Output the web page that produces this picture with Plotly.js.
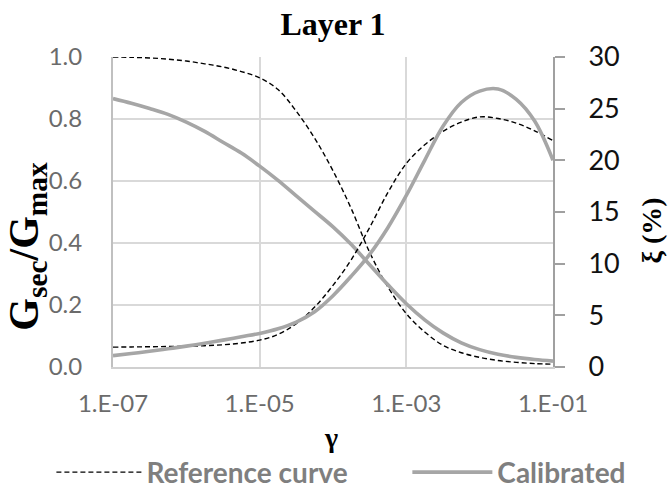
<!DOCTYPE html>
<html>
<head>
<meta charset="utf-8">
<script src="https://cdn.plot.ly/plotly-3.0.1.min.js"></script>
<style>
  html, body { margin: 0; padding: 0; background: #ffffff; }
  #chart { width: 670px; height: 489px; }
</style>
</head>
<body>
<div id="chart"></div>
<script>
// Shear strain, quarter-decade steps from 1e-7 to 1e-1
const gamma = [1e-7, 1.78e-7, 3.16e-7, 5.62e-7,
               1e-6, 1.78e-6, 3.16e-6, 5.62e-6,
               1e-5, 1.78e-5, 3.16e-5, 5.62e-5,
               1e-4, 1.78e-4, 3.16e-4, 5.62e-4,
               1e-3, 1.78e-3, 3.16e-3, 5.62e-3,
               1e-2, 1.78e-2, 3.16e-2, 5.62e-2, 1e-1];

// Reference curve: modulus reduction G_sec/G_max and damping ξ (%)
const refG  = [1.0, 0.999, 0.997, 0.993, 0.987, 0.978, 0.968, 0.953,
               0.933, 0.895, 0.825, 0.738, 0.633, 0.51, 0.37, 0.258,
               0.172, 0.113, 0.07, 0.046, 0.031, 0.021, 0.015, 0.011, 0.009];
const refXi = [1.92, 1.94, 1.96, 1.98, 2.01, 2.06, 2.15, 2.32,
               2.6, 3.15, 4.2, 5.8, 7.9, 10.4, 13.5, 16.9,
               19.7, 21.5, 22.8, 23.7, 24.2, 24.05, 23.6, 22.85, 21.9];

// Calibrated model: modulus reduction G_sec/G_max and damping ξ (%)
const calG  = [0.866, 0.851, 0.834, 0.815, 0.79, 0.76, 0.725, 0.69,
               0.648, 0.602, 0.552, 0.502, 0.452, 0.395, 0.33, 0.265,
               0.204, 0.152, 0.11, 0.078, 0.056, 0.041, 0.031, 0.024, 0.019];
const calXi = [1.1, 1.3, 1.52, 1.76, 2.02, 2.3, 2.6, 2.93,
               3.25, 3.7, 4.35, 5.35, 6.9, 8.8, 10.9, 13.5,
               16.6, 20.0, 23.3, 25.6, 26.7, 26.9, 25.9, 23.8, 20.0];

// Axis ticks
const xTickVals  = [1e-7, 1e-5, 1e-3, 1e-1];
const xTickText  = ['1.E-07', '1.E-05', '1.E-03', '1.E-01'];
const yTickVals  = [0, 0.2, 0.4, 0.6, 0.8, 1.0];
const yTickText  = ['0.0', '0.2', '0.4', '0.6', '0.8', '1.0'];
const y2TickVals = [0, 5, 10, 15, 20, 25, 30];

const seriesNames = ['Reference curve', 'Calibrated'];

const SANS  = 'Lato, "Open Sans", sans-serif';
const SERIF = '"Liberation Serif", "Times New Roman", serif';
const GRAY_LINE = '#a6a6a6';
const DASH  = {color: '#000000', width: 1.4, dash: '5px,3px', shape: 'spline', smoothing: 1};
const SOLID = {color: GRAY_LINE, width: 3.6, shape: 'spline', smoothing: 1};

const traces = [
  {x: gamma, y: refG,  name: seriesNames[0], type: 'scatter', mode: 'lines',
   line: DASH, xaxis: 'x', yaxis: 'y', legend: 'legend', showlegend: true},
  {x: gamma, y: refXi, name: seriesNames[0], type: 'scatter', mode: 'lines',
   line: DASH, xaxis: 'x', yaxis: 'y2', showlegend: false},
  {x: gamma, y: calG,  name: seriesNames[1], type: 'scatter', mode: 'lines',
   line: SOLID, xaxis: 'x', yaxis: 'y', legend: 'legend2', showlegend: true},
  {x: gamma, y: calXi, name: seriesNames[1], type: 'scatter', mode: 'lines',
   line: SOLID, xaxis: 'x', yaxis: 'y2', showlegend: false}
];

const legendFont = {family: SANS, size: 28, color: '#7f7f7f', weight: 'bold'};

const layout = {
  width: 670, height: 489,
  margin: {l: 113, r: 117, t: 57, b: 122, pad: 0, autoexpand: false},
  paper_bgcolor: '#ffffff', plot_bgcolor: '#ffffff',
  showlegend: true,
  title: {
    text: '<b>Layer 1</b>',
    font: {family: SERIF, size: 32, color: '#000000'},
    x: 0.5, xref: 'paper', xanchor: 'center',
    y: 0.951, yref: 'container', yanchor: 'middle'
  },
  xaxis: {
    type: 'log', range: [-7, -1],
    tickmode: 'array', tickvals: xTickVals, ticktext: xTickText,
    showgrid: true, gridcolor: '#d9d9d9', gridwidth: 2,
    showline: true, linecolor: '#d0d0d0', linewidth: 2,
    zeroline: false, ticks: '', ticklabelstandoff: 14,
    tickfont: {family: SANS, size: 24, color: '#6b6b6b'},
    fixedrange: true
  },
  yaxis: {
    range: [0, 1], tickmode: 'array', tickvals: yTickVals, ticktext: yTickText,
    showgrid: true, gridcolor: '#d9d9d9', gridwidth: 2,
    showline: true, linecolor: '#c0c0c0', linewidth: 2,
    zeroline: false, ticks: '', ticklabelstandoff: 24,
    tickfont: {family: SANS, size: 24, color: '#6b6b6b'},
    fixedrange: true
  },
  yaxis2: {
    range: [0, 30], tickmode: 'array', tickvals: y2TickVals,
    overlaying: 'y', side: 'right', anchor: 'x',
    showgrid: false, zeroline: false,
    showline: true, linecolor: '#a0a0a0', linewidth: 2,
    ticks: 'outside', ticklen: 10, tickwidth: 2, tickcolor: '#a0a0a0',
    ticklabelstandoff: 18,
    tickfont: {family: SANS, size: 27, color: '#111111'},
    fixedrange: true
  },
  legend: {
    orientation: 'h', x: -0.140, xanchor: 'left', y: -0.340, yanchor: 'middle',
    bgcolor: 'rgba(0,0,0,0)', borderwidth: 0, itemwidth: 85,
    font: legendFont
  },
  legend2: {
    orientation: 'h', x: 0.669, xanchor: 'left', y: -0.340, yanchor: 'middle',
    bgcolor: 'rgba(0,0,0,0)', borderwidth: 0, itemwidth: 80,
    font: legendFont
  },
  annotations: [
    {text: '<b>G<sub>sec</sub>/G<sub>max</sub></b>', textangle: -90,
     xref: 'paper', yref: 'paper', x: -0.1948, y: 0.389,
     xanchor: 'center', yanchor: 'middle', showarrow: false,
     font: {family: SERIF, size: 42, color: '#000000'}},
    {text: '<b>ξ (%)</b>', textangle: -90,
     xref: 'paper', yref: 'paper', x: 1.2234, y: 0.441,
     xanchor: 'center', yanchor: 'middle', showarrow: false,
     font: {family: SERIF, size: 28, color: '#000000'}},
    {text: '<b>γ</b>', xref: 'paper', yref: 'paper', x: 0.4955, y: -0.226,
     xanchor: 'center', yanchor: 'middle', showarrow: false,
     font: {family: SERIF, size: 28, color: '#000000'}}
  ]
};

Plotly.newPlot('chart', traces, layout, {displayModeBar: false, staticPlot: true});
</script>
</body>
</html>
